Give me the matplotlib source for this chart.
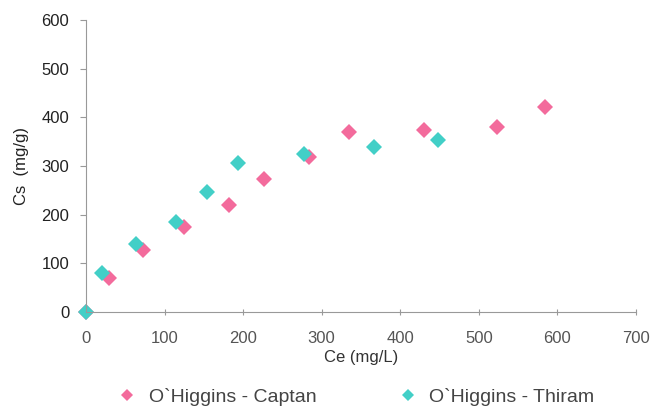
import matplotlib.pyplot as plt

plt.rcParams['font.family'] = ['Liberation Sans', 'DejaVu Sans']

# O'Higgins - Captan
captan_ce = [0, 29, 72, 125, 182, 227, 284, 335, 430, 523, 584]
captan_cs = [0, 70, 127, 175, 220, 273, 318, 370, 374, 380, 421]

# O'Higgins - Thiram
thiram_ce = [0, 20, 64, 114, 154, 194, 278, 366, 448]
thiram_cs = [0, 80, 140, 185, 246, 306, 324, 339, 353]

pink = '#f36b9c'
teal = '#42cfc7'

fig = plt.figure(figsize=(6.51, 4.07), dpi=100)
ax = fig.add_axes([0.132, 0.2334, 0.845, 0.7176])

ax.plot(captan_ce, captan_cs, 'D', color=pink, markersize=8.5, markeredgewidth=0,
        label="O`Higgins - Captan", clip_on=False)
ax.plot(thiram_ce, thiram_cs, 'D', color=teal, markersize=8.5, markeredgewidth=0,
        label="O`Higgins - Thiram", clip_on=False)

ax.set_xlim(0, 700)
ax.set_ylim(0, 600)
ax.set_xticks(range(0, 701, 100))
ax.set_yticks(range(0, 601, 100))
ax.spines['top'].set_visible(False)
ax.spines['right'].set_visible(False)
ax.spines['left'].set_color('#999999')
ax.spines['bottom'].set_color('#999999')
ax.tick_params(axis='y', direction='out', length=4, color='#999999', labelsize=12,
               labelcolor='#222222', pad=8)
ax.tick_params(axis='x', direction='inout', length=5, color='#999999', labelsize=12,
               labelcolor='#555555', pad=11)

ax.set_xlabel('Ce (mg/L)', fontsize=12, labelpad=3, color='#333333')
ax.set_ylabel('Cs  (mg/g)', fontsize=12, labelpad=9, color='#222222')

leg = fig.legend(loc='center', bbox_to_anchor=(0.539, 0.025), ncol=2, frameon=False,
                 fontsize=14, handletextpad=0.1, columnspacing=3.7, markerscale=0.75)
for t in leg.get_texts():
    t.set_color('#444444')

fig.savefig('out.png', dpi=100)
